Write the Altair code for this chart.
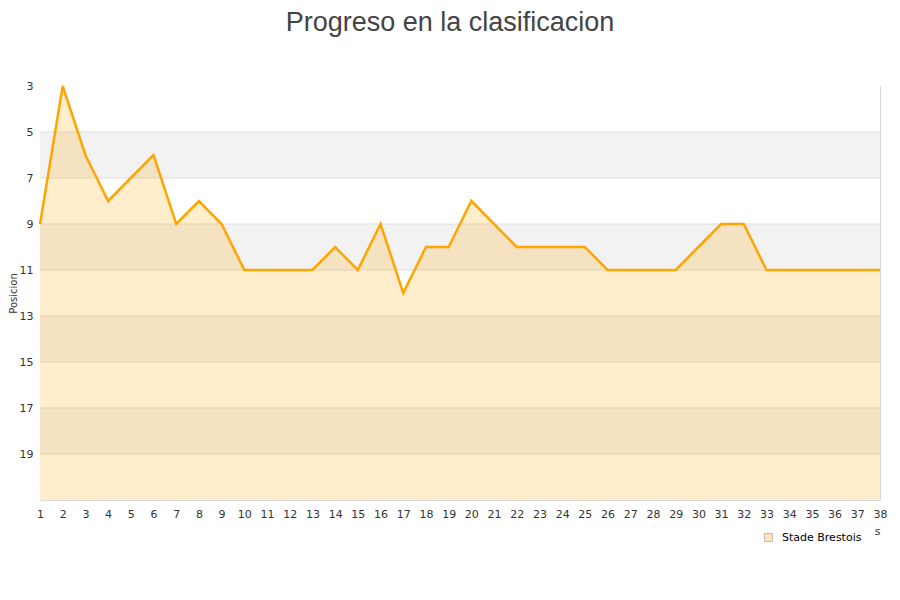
import altair as alt
import pandas as pd

jornadas = list(range(1, 39))
posiciones = [9, 3, 6, 8, 7, 6, 9, 8, 9, 11, 11, 11, 11, 10, 11, 9, 12, 10, 10, 8,
              9, 10, 10, 10, 10, 11, 11, 11, 11, 10, 9, 9, 11, 11, 11, 11, 11, 11]
equipo = "Stade Brestois"
band_starts = [3, 5, 7, 9, 11, 13, 15, 17, 19]
band_shade = ["claro", "gris", "claro", "gris", "claro", "gris", "claro", "gris", "claro"]
grid_values = [5, 7, 9, 11, 13, 15, 17, 19]
y_ticks = [3, 5, 7, 9, 11, 13, 15, 17, 19]

df = pd.DataFrame({"jornada": jornadas, "posicion": posiciones, "equipo": [equipo] * len(jornadas)})
bands = pd.DataFrame({"y0": band_starts, "y1": [b + 2 for b in band_starts], "shade": band_shade})
grid = pd.DataFrame({"v": grid_values})

x_scale = alt.Scale(domain=[1, 38], nice=False, zero=False)
y_scale = alt.Scale(domain=[3, 21], reverse=True, nice=False, zero=False)

x_axis = alt.Axis(values=jornadas, title="Jornadas", grid=False, ticks=False, domain=False,
                  labelPadding=8, labelOverlap=False, labelFlush=False, labelAngle=0,
                  titleAnchor="end", titleFont="DejaVu Sans", titleFontSize=11,
                  titleFontWeight="normal", titleColor="#333333", titlePadding=6)
y_axis = alt.Axis(values=y_ticks, title="Posicion", grid=False, ticks=False, domain=False,
                  labelPadding=7, titleFont="DejaVu Sans", titleFontSize=10,
                  titleFontWeight="normal", titleColor="#333333", titlePadding=1)

base = alt.Chart(df)

band_layer = alt.Chart(bands).mark_rect().encode(
    x=alt.datum(1, scale=x_scale, axis=x_axis),
    x2=alt.datum(38),
    y=alt.Y("y0:Q", scale=y_scale, axis=y_axis),
    y2="y1:Q",
    color=alt.Color("shade:N", scale=alt.Scale(domain=["claro", "gris"], range=["#ffffff", "#f2f2f2"]), legend=None),
)

grid_layer = alt.Chart(grid).mark_rule(color="#dedede", strokeWidth=1).encode(
    x=alt.datum(1, scale=x_scale, axis=x_axis),
    x2=alt.datum(38),
    y=alt.Y("v:Q", scale=y_scale, axis=y_axis),
)

area_layer = base.mark_area(fillOpacity=0.2).encode(
    x=alt.X("jornada:Q", scale=x_scale, axis=x_axis),
    y=alt.Y("posicion:Q", scale=y_scale, axis=y_axis),
    y2=alt.datum(21),
    fill=alt.Fill("equipo:N", scale=alt.Scale(range=["#FFA500"]),
                  legend=alt.Legend(title=None, orient="none", legendX=710, legendY=433,
                                    symbolType="square", symbolSize=64, symbolOpacity=0.3,
                                    symbolStrokeColor="#222222", symbolStrokeWidth=1,
                                    labelFont="DejaVu Sans", labelFontSize=11, labelColor="#000000",
                                    labelOffset=8, fillColor="#ffffff", padding=13)),
)

line_layer = base.mark_line(color="#FFA500", strokeWidth=2.5).encode(
    x=alt.X("jornada:Q", scale=x_scale, axis=x_axis),
    y=alt.Y("posicion:Q", scale=y_scale, axis=y_axis),
)

chart = alt.layer(band_layer, grid_layer, area_layer, line_layer).resolve_scale(
    fill="independent", color="independent"
).properties(
    width=840,
    height=414,
    title=alt.TitleParams("Progreso en la clasificacion", font="Liberation Sans", fontSize=27,
                          fontWeight="normal", color="#444444", anchor="middle", dx=-10, offset=43),
    autosize=alt.AutoSizeParams(type="none"),
    padding={"left": 32, "top": 78, "right": 12, "bottom": 60},
).configure_view(
    stroke="#d9d9d9", strokeWidth=1
).configure_axis(
    labelFont="DejaVu Sans", labelFontSize=11, labelColor="#333333"
)

chart.save("out.html", embed_options={"renderer": "svg", "actions": False})
